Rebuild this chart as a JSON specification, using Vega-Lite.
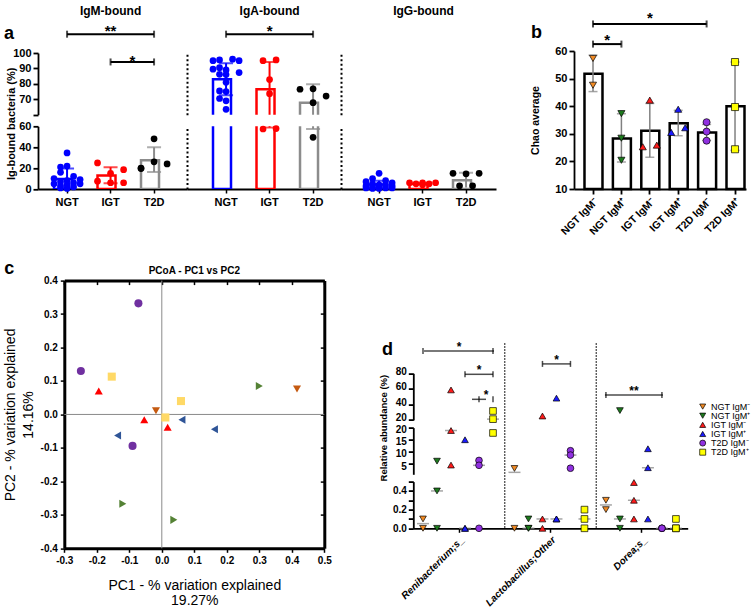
{
"$schema":"https://vega.github.io/schema/vega-lite/v6.json",
"background":"white",
"padding":{"left":3,"top":4,"right":0,"bottom":0},
"config":{"font":"Liberation Sans","view":{"stroke":null},"axis":{"domainColor":"black","tickColor":"black","labelColor":"black","titleColor":"black","grid":false,"labelFontWeight":"bold","domainWidth":1.8,"tickWidth":1.8,"labelFont":"Liberation Sans","titleFont":"Liberation Sans"}},
"datasets":{
"aPts":[
{"ig":"IgM","grp":"NGT","v":34.5,"lane":0},{"ig":"IgM","grp":"NGT","v":22,"lane":0},{"ig":"IgM","grp":"NGT","v":21,"lane":-1},{"ig":"IgM","grp":"NGT","v":16,"lane":-1},{"ig":"IgM","grp":"NGT","v":12,"lane":1},{"ig":"IgM","grp":"NGT","v":10,"lane":-2},{"ig":"IgM","grp":"NGT","v":9,"lane":2},{"ig":"IgM","grp":"NGT","v":8,"lane":0},{"ig":"IgM","grp":"NGT","v":7,"lane":-1},{"ig":"IgM","grp":"NGT","v":6,"lane":1},{"ig":"IgM","grp":"NGT","v":5,"lane":-2},{"ig":"IgM","grp":"NGT","v":5,"lane":2},{"ig":"IgM","grp":"NGT","v":4,"lane":0},{"ig":"IgM","grp":"NGT","v":3,"lane":-1},{"ig":"IgM","grp":"NGT","v":2,"lane":1},{"ig":"IgM","grp":"NGT","v":1,"lane":-1},{"ig":"IgM","grp":"NGT","v":0.5,"lane":0},
{"ig":"IgM","grp":"IGT","v":25,"lane":-2},{"ig":"IgM","grp":"IGT","v":18.5,"lane":2},{"ig":"IgM","grp":"IGT","v":15,"lane":0},{"ig":"IgM","grp":"IGT","v":7.5,"lane":-2},{"ig":"IgM","grp":"IGT","v":6,"lane":0},{"ig":"IgM","grp":"IGT","v":6,"lane":2},
{"ig":"IgM","grp":"T2D","v":48,"lane":0},{"ig":"IgM","grp":"T2D","v":26,"lane":0},{"ig":"IgM","grp":"T2D","v":24,"lane":2},{"ig":"IgM","grp":"T2D","v":20,"lane":-2},{"ig":"IgM","grp":"T2D","v":19.5,"lane":-2},
{"ig":"IgA","grp":"NGT","v":95,"lane":-2},{"ig":"IgA","grp":"NGT","v":95.5,"lane":-1},{"ig":"IgA","grp":"NGT","v":96,"lane":1},{"ig":"IgA","grp":"NGT","v":95,"lane":2},{"ig":"IgA","grp":"NGT","v":89.5,"lane":-2},{"ig":"IgA","grp":"NGT","v":90.5,"lane":-1},{"ig":"IgA","grp":"NGT","v":89,"lane":0},{"ig":"IgA","grp":"NGT","v":87.3,"lane":2},{"ig":"IgA","grp":"NGT","v":86.2,"lane":-1},{"ig":"IgA","grp":"NGT","v":86,"lane":0},{"ig":"IgA","grp":"NGT","v":81,"lane":0},{"ig":"IgA","grp":"NGT","v":75.4,"lane":-1},{"ig":"IgA","grp":"NGT","v":75,"lane":0},{"ig":"IgA","grp":"NGT","v":70.5,"lane":-1},{"ig":"IgA","grp":"NGT","v":69,"lane":0},{"ig":"IgA","grp":"NGT","v":63.5,"lane":0},
{"ig":"IgA","grp":"IGT","v":95,"lane":-1},{"ig":"IgA","grp":"IGT","v":95.5,"lane":1},{"ig":"IgA","grp":"IGT","v":82.8,"lane":0},{"ig":"IgA","grp":"IGT","v":73.6,"lane":0},{"ig":"IgA","grp":"IGT","v":57.4,"lane":-1},{"ig":"IgA","grp":"IGT","v":57.8,"lane":1},
{"ig":"IgA","grp":"T2D","v":76.5,"lane":-2},{"ig":"IgA","grp":"T2D","v":76.8,"lane":0},{"ig":"IgA","grp":"T2D","v":72.1,"lane":2},{"ig":"IgA","grp":"T2D","v":67.8,"lane":0},{"ig":"IgA","grp":"T2D","v":49.5,"lane":0},
{"ig":"IgG","grp":"NGT","v":15,"lane":0},{"ig":"IgG","grp":"NGT","v":10,"lane":-1},{"ig":"IgG","grp":"NGT","v":8,"lane":1},{"ig":"IgG","grp":"NGT","v":7,"lane":-2},{"ig":"IgG","grp":"NGT","v":6,"lane":2},{"ig":"IgG","grp":"NGT","v":5,"lane":-1},{"ig":"IgG","grp":"NGT","v":4,"lane":0},{"ig":"IgG","grp":"NGT","v":4,"lane":1},{"ig":"IgG","grp":"NGT","v":3,"lane":-2},{"ig":"IgG","grp":"NGT","v":3,"lane":2},{"ig":"IgG","grp":"NGT","v":2,"lane":-1},{"ig":"IgG","grp":"NGT","v":2,"lane":0},{"ig":"IgG","grp":"NGT","v":1,"lane":1},{"ig":"IgG","grp":"NGT","v":1,"lane":-2},{"ig":"IgG","grp":"NGT","v":1,"lane":2},{"ig":"IgG","grp":"NGT","v":0.5,"lane":-1},{"ig":"IgG","grp":"NGT","v":0.5,"lane":0},
{"ig":"IgG","grp":"IGT","v":6,"lane":-2},{"ig":"IgG","grp":"IGT","v":5,"lane":-1},{"ig":"IgG","grp":"IGT","v":6,"lane":0},{"ig":"IgG","grp":"IGT","v":5,"lane":1},{"ig":"IgG","grp":"IGT","v":6,"lane":2},{"ig":"IgG","grp":"IGT","v":4,"lane":0},
{"ig":"IgG","grp":"T2D","v":15,"lane":-2},{"ig":"IgG","grp":"T2D","v":14.5,"lane":0},{"ig":"IgG","grp":"T2D","v":15,"lane":2},{"ig":"IgG","grp":"T2D","v":3,"lane":-1},{"ig":"IgG","grp":"T2D","v":3,"lane":1}
],
"aBars":[
{"ig":"IgM","grp":"NGT","mean":9.6,"lo":0,"hi":19.5},{"ig":"IgM","grp":"IGT","mean":13,"lo":5.4,"hi":20.9},{"ig":"IgM","grp":"T2D","mean":27.5,"lo":16.3,"hi":40},
{"ig":"IgA","grp":"NGT","mean":83,"lo":72.6,"hi":93.4},{"ig":"IgA","grp":"IGT","mean":76.5,"lo":58.8,"hi":94.2},{"ig":"IgA","grp":"T2D","mean":67.8,"lo":57.4,"hi":79.7},
{"ig":"IgG","grp":"NGT","mean":4.3,"lo":1,"hi":7.8},{"ig":"IgG","grp":"IGT","mean":4.8,"lo":4,"hi":5.6},{"ig":"IgG","grp":"T2D","mean":8.3,"lo":1.5,"hi":15.5}
],
"bBars":[
{"g":"NGT IgM⁻","mean":51.8,"lo":45.3,"hi":58.5},{"g":"NGT IgM⁺","mean":28.3,"lo":19.8,"hi":37.3},{"g":"IGT IgM⁻","mean":31.1,"lo":21.5,"hi":41},{"g":"IGT IgM⁺","mean":33.8,"lo":29.3,"hi":38.5},{"g":"T2D IgM⁻","mean":30.5,"lo":27.6,"hi":33.4},{"g":"T2D IgM⁺","mean":40,"lo":24,"hi":56}
],
"bPts":[
{"g":"NGT IgM⁻","v":57.3,"lane":0},{"g":"NGT IgM⁻","v":47.6,"lane":0},
{"g":"NGT IgM⁺","v":37.3,"lane":0},{"g":"NGT IgM⁺","v":28.4,"lane":0},{"g":"NGT IgM⁺","v":20.4,"lane":0},
{"g":"IGT IgM⁻","v":42.2,"lane":0},{"g":"IGT IgM⁻","v":25.3,"lane":-1},{"g":"IGT IgM⁻","v":25.9,"lane":1},
{"g":"IGT IgM⁺","v":38.9,"lane":0},{"g":"IGT IgM⁺","v":30.5,"lane":-1},{"g":"IGT IgM⁺","v":32.2,"lane":1},
{"g":"T2D IgM⁻","v":34.2,"lane":0},{"g":"T2D IgM⁻","v":30.8,"lane":0},{"g":"T2D IgM⁻","v":27.5,"lane":0},
{"g":"T2D IgM⁺","v":56,"lane":0},{"g":"T2D IgM⁺","v":39.7,"lane":0},{"g":"T2D IgM⁺","v":24.4,"lane":0}
],
"cPts":[
{"g":"T2D IgM⁻","x":-0.072,"y":0.332},{"g":"T2D IgM⁻","x":-0.249,"y":0.13},{"g":"T2D IgM⁻","x":-0.09,"y":-0.094},
{"g":"T2D IgM⁺","x":-0.154,"y":0.113},{"g":"T2D IgM⁺","x":0.059,"y":0.04},{"g":"T2D IgM⁺","x":0.011,"y":-0.009},
{"g":"IGT IgM⁻","x":-0.194,"y":0.07},{"g":"IGT IgM⁻","x":-0.054,"y":-0.016},{"g":"IGT IgM⁻","x":0.018,"y":-0.038},
{"g":"NGT IgM⁻","x":-0.018,"y":0.011},{"g":"NGT IgM⁻","x":0.416,"y":0.076},
{"g":"NGT IgM⁺","x":0.3,"y":0.085},{"g":"NGT IgM⁺","x":-0.12,"y":-0.267},{"g":"NGT IgM⁺","x":0.037,"y":-0.315},
{"g":"IGT IgM⁺","x":-0.136,"y":-0.063},{"g":"IGT IgM⁺","x":0.062,"y":-0.016},{"g":"IGT IgM⁺","x":0.162,"y":-0.044}
],
"dPts":[
{"genus":"Renibacterium;s_","g":"NGT IgM⁻","v":0.1},{"genus":"Renibacterium;s_","g":"NGT IgM⁻","v":0},
{"genus":"Renibacterium;s_","g":"NGT IgM⁺","v":6.2},{"genus":"Renibacterium;s_","g":"NGT IgM⁺","v":0.4},{"genus":"Renibacterium;s_","g":"NGT IgM⁺","v":0},
{"genus":"Renibacterium;s_","g":"IGT IgM⁻","v":58.6},{"genus":"Renibacterium;s_","g":"IGT IgM⁻","v":18.8},{"genus":"Renibacterium;s_","g":"IGT IgM⁻","v":4.6},
{"genus":"Renibacterium;s_","g":"IGT IgM⁺","v":15},{"genus":"Renibacterium;s_","g":"IGT IgM⁺","v":0},{"genus":"Renibacterium;s_","g":"IGT IgM⁺","v":0},
{"genus":"Renibacterium;s_","g":"T2D IgM⁻","v":6.5},{"genus":"Renibacterium;s_","g":"T2D IgM⁻","v":4.5},{"genus":"Renibacterium;s_","g":"T2D IgM⁻","v":0},
{"genus":"Renibacterium;s_","g":"T2D IgM⁺","v":31.5},{"genus":"Renibacterium;s_","g":"T2D IgM⁺","v":21},{"genus":"Renibacterium;s_","g":"T2D IgM⁺","v":17.8},
{"genus":"Lactobacillus;Other","g":"NGT IgM⁻","v":3.2},{"genus":"Lactobacillus;Other","g":"NGT IgM⁻","v":0},
{"genus":"Lactobacillus;Other","g":"NGT IgM⁺","v":0.1},{"genus":"Lactobacillus;Other","g":"NGT IgM⁺","v":0},{"genus":"Lactobacillus;Other","g":"NGT IgM⁺","v":0},
{"genus":"Lactobacillus;Other","g":"IGT IgM⁻","v":25},{"genus":"Lactobacillus;Other","g":"IGT IgM⁻","v":0.1},{"genus":"Lactobacillus;Other","g":"IGT IgM⁻","v":0},
{"genus":"Lactobacillus;Other","g":"IGT IgM⁺","v":48},{"genus":"Lactobacillus;Other","g":"IGT IgM⁺","v":0.1},{"genus":"Lactobacillus;Other","g":"IGT IgM⁺","v":0.1},
{"genus":"Lactobacillus;Other","g":"T2D IgM⁻","v":10.5},{"genus":"Lactobacillus;Other","g":"T2D IgM⁻","v":8.7},{"genus":"Lactobacillus;Other","g":"T2D IgM⁻","v":3.3},
{"genus":"Lactobacillus;Other","g":"T2D IgM⁺","v":0.2},{"genus":"Lactobacillus;Other","g":"T2D IgM⁺","v":0.1},{"genus":"Lactobacillus;Other","g":"T2D IgM⁺","v":0},
{"genus":"Dorea;s_","g":"NGT IgM⁻","v":0.3},{"genus":"Dorea;s_","g":"NGT IgM⁻","v":0.2},
{"genus":"Dorea;s_","g":"NGT IgM⁺","v":32},{"genus":"Dorea;s_","g":"NGT IgM⁺","v":0.1},{"genus":"Dorea;s_","g":"NGT IgM⁺","v":0},
{"genus":"Dorea;s_","g":"IGT IgM⁻","v":0.49},{"genus":"Dorea;s_","g":"IGT IgM⁻","v":0.3},{"genus":"Dorea;s_","g":"IGT IgM⁻","v":0.1},
{"genus":"Dorea;s_","g":"IGT IgM⁺","v":11.3},{"genus":"Dorea;s_","g":"IGT IgM⁺","v":3.5},{"genus":"Dorea;s_","g":"IGT IgM⁺","v":0.1},
{"genus":"Dorea;s_","g":"T2D IgM⁻","v":0},{"genus":"Dorea;s_","g":"T2D IgM⁻","v":0},{"genus":"Dorea;s_","g":"T2D IgM⁻","v":0},
{"genus":"Dorea;s_","g":"T2D IgM⁺","v":0.1},{"genus":"Dorea;s_","g":"T2D IgM⁺","v":0},{"genus":"Dorea;s_","g":"T2D IgM⁺","v":0}
],
"dCaps":[
{"genus":"Renibacterium;s_","g":"NGT IgM⁻","y":108.8},{"genus":"Renibacterium;s_","g":"T2D IgM⁺","y":108.8},
{"genus":"Renibacterium;s_","g":"IGT IgM⁺","y":78.7},{"genus":"Renibacterium;s_","g":"T2D IgM⁺","y":78.7},
{"genus":"Renibacterium;s_","g":"T2D IgM⁻","y":46.5},{"genus":"Renibacterium;s_","g":"T2D IgM⁺","y":46.5},
{"genus":"Lactobacillus;Other","g":"IGT IgM⁻","y":92.1},{"genus":"Lactobacillus;Other","g":"T2D IgM⁻","y":92.1},
{"genus":"Dorea;s_","g":"NGT IgM⁻","y":52.2},{"genus":"Dorea;s_","g":"T2D IgM⁻","y":52.2}
],
"leg":[{"g":"NGT IgM⁻"},{"g":"NGT IgM⁺"},{"g":"IGT IgM⁻"},{"g":"IGT IgM⁺"},{"g":"T2D IgM⁻"},{"g":"T2D IgM⁺"}]
},
"bounds":"flush",
"align":"each",
"columns":4,
"spacing":{"row":11.3,"column":0},
"resolve":{"scale":{"color":"independent","shape":"independent","fill":"independent","stroke":"independent","xOffset":"independent"}},
"concat":[
  {"width":149,"height":63.7,
   "encoding":{"x":{"field":"grp","type":"nominal","title":null,"axis":null,"scale":{"domain":["NGT","IGT","T2D"],"paddingInner":0.4,"paddingOuter":0.4125,"align":0.446}},
     "y":{"field":"y","type":"quantitative","title":null,"scale":{"domain":[60,100],"range":[63.7,2],"nice":false,"zero":false},"axis":{"values":[60,70,80,90,100],"labelExpr":"datum.value==60?'':datum.label","tickSize":5,"labelFontSize":11,"labelPadding":2,"title":null}}},
   "layer":[
    {"data":{"values":[{"grp":"NGT","grp2":"T2D","y":112.2},{"grp":"IGT","grp2":"T2D","y":94.2}]},"mark":{"type":"rule","strokeWidth":2,"color":"black"},"encoding":{"x2":{"field":"grp2"}}},
    {"data":{"values":[{"grp":"NGT","grp2":"T2D","y":112.2},{"grp":"IGT","grp2":"T2D","y":94.2}]},"mark":{"type":"tick","orient":"vertical","size":7,"thickness":2,"color":"black"}},
    {"data":{"values":[{"grp":"NGT","grp2":"T2D","y":112.2},{"grp":"IGT","grp2":"T2D","y":94.2}]},"mark":{"type":"tick","orient":"vertical","size":7,"thickness":2,"color":"black"},"encoding":{"x":{"field":"grp2","type":"nominal","title":null,"axis":null}}},
    {"data":{"values":[{"grp":"IGT","y":110.8,"t":"**"}]},"mark":{"type":"text","fontSize":15,"fontWeight":"bold","baseline":"alphabetic"},"encoding":{"text":{"field":"t"}}},
    {"data":{"values":[{"grp":"IGT","y":91.8,"t":"*"}]},"mark":{"type":"text","fontSize":15,"fontWeight":"bold","baseline":"alphabetic","dx":21.75},"encoding":{"text":{"field":"t"}}},
    {"data":{"values":[{"grp":"IGT","y":124.9,"t":"IgM-bound"}]},"mark":{"type":"text","fontSize":12,"fontWeight":"bold","baseline":"alphabetic"},"encoding":{"text":{"field":"t"}}},
    {"data":{"values":[{"grp":"NGT","y":109.1,"t":"a"}]},"mark":{"type":"text","fontSize":18,"fontWeight":"bold","baseline":"alphabetic","align":"left","dx":-63},"encoding":{"text":{"field":"t"}}}
   ]},
  {"width":154,"height":63.7,
   "encoding":{"x":{"field":"grp","type":"nominal","title":null,"axis":null,"scale":{"domain":["NGT","IGT","T2D"],"paddingInner":0.4,"paddingOuter":0.47,"align":0.636}},
     "y":{"field":"y","type":"quantitative","title":null,"scale":{"domain":[60,100],"range":[63.7,2],"nice":false,"zero":false},"axis":{"domainDash":[2,2.5],"domainWidth":2,"ticks":false,"labels":false,"title":null}}},
   "layer":[
    {"data":{"name":"aBars"},"transform":[{"filter":"datum.ig=='IgA'"}],"mark":{"type":"bar","fill":"white","strokeWidth":2.5,"clip":true},"encoding":{"y":{"field":"mean","type":"quantitative","title":null},"y2":{"datum":0},"stroke":{"field":"grp","type":"nominal","legend":null,"scale":{"domain":["NGT","IGT","T2D"],"range":["#0000ff","#ff0000","#8c8c8c"]}}}},
    {"data":{"name":"aBars"},"transform":[{"filter":"datum.ig=='IgA'"}],"mark":{"type":"rule","strokeWidth":2,"clip":true},"encoding":{"y":{"field":"lo","type":"quantitative","title":null},"y2":{"field":"hi"},"stroke":{"field":"grp","type":"nominal","legend":null}}},
    {"data":{"name":"aBars"},"transform":[{"filter":"datum.ig=='IgA'"}],"mark":{"type":"tick","orient":"horizontal","thickness":2,"size":14,"clip":true},"encoding":{"y":{"field":"lo","type":"quantitative","title":null},"fill":{"field":"grp","type":"nominal","legend":null,"scale":{"domain":["NGT","IGT","T2D"],"range":["#0000ff","#ff0000","#8c8c8c"]}}}},
    {"data":{"name":"aBars"},"transform":[{"filter":"datum.ig=='IgA'"}],"mark":{"type":"tick","orient":"horizontal","thickness":2,"size":14,"clip":true},"encoding":{"y":{"field":"hi","type":"quantitative","title":null},"fill":{"field":"grp","type":"nominal","legend":null}}},
    {"data":{"name":"aPts"},"transform":[{"filter":"datum.ig=='IgA' && datum.v>=60"}],"mark":{"type":"circle","size":45,"opacity":1},"encoding":{"y":{"field":"v","type":"quantitative","title":null},"xOffset":{"field":"lane","type":"ordinal","scale":{"type":"point","padding":0,"domain":[-2,-1,0,1,2],"range":[0,26.1]}},"color":{"field":"grp","type":"nominal","legend":null,"scale":{"domain":["NGT","IGT","T2D"],"range":["#0000ff","#ff0000","#000000"]}}}},
    {"data":{"values":[{"grp":"NGT","grp2":"T2D","y":112.2}]},"mark":{"type":"rule","strokeWidth":2,"color":"black"},"encoding":{"x2":{"field":"grp2"}}},
    {"data":{"values":[{"grp":"NGT","grp2":"T2D","y":112.2}]},"mark":{"type":"tick","orient":"vertical","size":7,"thickness":2,"color":"black"}},
    {"data":{"values":[{"grp":"NGT","grp2":"T2D","y":112.2}]},"mark":{"type":"tick","orient":"vertical","size":7,"thickness":2,"color":"black"},"encoding":{"x":{"field":"grp2","type":"nominal","title":null,"axis":null}}},
    {"data":{"values":[{"grp":"IGT","y":110.8,"t":"*"}]},"mark":{"type":"text","fontSize":15,"fontWeight":"bold","baseline":"alphabetic"},"encoding":{"text":{"field":"t"}}},
    {"data":{"values":[{"grp":"IGT","y":124.9,"t":"IgA-bound"}]},"mark":{"type":"text","fontSize":12,"fontWeight":"bold","baseline":"alphabetic"},"encoding":{"text":{"field":"t"}}}
   ]},
  {"width":155,"height":63.7,
   "encoding":{"x":{"field":"grp","type":"nominal","title":null,"axis":null,"scale":{"domain":["NGT","IGT","T2D"],"paddingInner":0.4,"paddingOuter":0.482,"align":0.597}},
     "y":{"field":"y","type":"quantitative","title":null,"scale":{"domain":[60,100],"range":[63.7,2],"nice":false,"zero":false},"axis":{"domainDash":[2,2.5],"domainWidth":2,"ticks":false,"labels":false,"title":null}}},
   "layer":[
    {"data":{"values":[{"grp":"IGT","y":124.9,"t":"IgG-bound"}]},"mark":{"type":"text","fontSize":12,"fontWeight":"bold","baseline":"alphabetic"},"encoding":{"text":{"field":"t"}}}
   ]},
  {"width":250,"height":63.7,
   "encoding":{"x":{"field":"g","type":"nominal","title":null,"scale":{"domain":["NGT IgM⁻","NGT IgM⁺","IGT IgM⁻","IGT IgM⁺","T2D IgM⁻","T2D IgM⁺"],"range":[78,250],"paddingInner":0.4,"paddingOuter":0.228,"align":0.81},"axis":{"title":null,"labelAngle":-45,"labelFontSize":10.5,"tickSize":5,"labelPadding":2,"offset":74.3}},
     "y":{"field":"mean","type":"quantitative","title":null,"scale":{"domain":[10,60],"range":[138,0],"nice":false,"zero":false},"axis":{"values":[10,20,30,40,50,60],"labelFontSize":11,"tickSize":5,"labelPadding":2,"offset":-78,"title":"Chao average","titleFontSize":10.5,"titleFontWeight":"bold","titleX":-39,"titleY":69,"titleAngle":-90,"titleAlign":"center","titleBaseline":"middle"}}},
   "layer":[
    {"data":{"name":"bBars"},"mark":{"type":"bar","fill":"white","stroke":"black","strokeWidth":2.5},"encoding":{"y2":{"datum":10}}},
    {"data":{"name":"bBars"},"mark":{"type":"rule","color":"#808080","strokeWidth":1.5},"encoding":{"y":{"field":"lo","type":"quantitative","title":null},"y2":{"field":"hi"}}},
    {"data":{"name":"bBars"},"mark":{"type":"tick","orient":"horizontal","color":"#808080","size":9,"thickness":1.5},"encoding":{"y":{"field":"lo","type":"quantitative","title":null}}},
    {"data":{"name":"bBars"},"mark":{"type":"tick","orient":"horizontal","color":"#808080","size":9,"thickness":1.5},"encoding":{"y":{"field":"hi","type":"quantitative","title":null}}},
    {"data":{"name":"bPts"},"mark":{"type":"point","filled":true,"size":50,"stroke":"black","strokeWidth":0.7,"opacity":1},"encoding":{"y":{"field":"v","type":"quantitative","title":null},"xOffset":{"field":"lane","type":"ordinal","scale":{"type":"point","padding":0,"domain":[-1,0,1],"range":[1.5,15.5]}},"shape":{"field":"g","type":"nominal","legend":null,"scale":{"domain":["NGT IgM⁻","NGT IgM⁺","IGT IgM⁻","IGT IgM⁺","T2D IgM⁻","T2D IgM⁺"],"range":["triangle-down","triangle-down","triangle-up","triangle-up","circle","square"]}},"color":{"field":"g","type":"nominal","legend":null,"scale":{"domain":["NGT IgM⁻","NGT IgM⁺","IGT IgM⁻","IGT IgM⁺","T2D IgM⁻","T2D IgM⁺"],"range":["#f08a24","#1d7a1d","#ff1a1a","#1a1aff","#9030e0","#ffff00"]}}}},
    {"data":{"values":[{"g":"NGT IgM⁻","g2":"T2D IgM⁻","y":69.8},{"g":"NGT IgM⁻","g2":"NGT IgM⁺","y":62.5}]},"mark":{"type":"rule","strokeWidth":2,"color":"black"},"encoding":{"y":{"field":"y","type":"quantitative","title":null},"x2":{"field":"g2"}}},
    {"data":{"values":[{"g":"NGT IgM⁻","g2":"T2D IgM⁻","y":69.8},{"g":"NGT IgM⁻","g2":"NGT IgM⁺","y":62.5}]},"mark":{"type":"tick","orient":"vertical","size":7,"thickness":2,"color":"black"},"encoding":{"y":{"field":"y","type":"quantitative","title":null}}},
    {"data":{"values":[{"g":"NGT IgM⁻","g2":"T2D IgM⁻","y":69.8},{"g":"NGT IgM⁻","g2":"NGT IgM⁺","y":62.5}]},"mark":{"type":"tick","orient":"vertical","size":7,"thickness":2,"color":"black"},"encoding":{"x":{"field":"g2","type":"nominal","title":null},"y":{"field":"y","type":"quantitative","title":null}}},
    {"data":{"values":[{"g":"IGT IgM⁻","y":70,"t":"*"}]},"mark":{"type":"text","fontSize":15,"fontWeight":"bold","baseline":"alphabetic"},"encoding":{"y":{"field":"y","type":"quantitative","title":null},"text":{"field":"t"}}},
    {"data":{"values":[{"g":"NGT IgM⁻","y":62,"t":"*"}]},"mark":{"type":"text","fontSize":15,"fontWeight":"bold","baseline":"alphabetic","dx":14.2},"encoding":{"y":{"field":"y","type":"quantitative","title":null},"text":{"field":"t"}}},
    {"data":{"values":[{"g":"NGT IgM⁻","y":64.7,"t":"b"}]},"mark":{"type":"text","fontSize":18,"fontWeight":"bold","baseline":"alphabetic","align":"left","dx":-62},"encoding":{"y":{"field":"y","type":"quantitative","title":null},"text":{"field":"t"}}}
   ]},
  {"width":149,"height":62.7,
   "encoding":{"x":{"field":"grp","type":"nominal","title":null,"axis":{"title":null,"labelAngle":0,"labelFontSize":11,"tickSize":4,"tickWidth":1.5,"labelPadding":3},"scale":{"domain":["NGT","IGT","T2D"],"paddingInner":0.4,"paddingOuter":0.4125,"align":0.446}},
     "y":{"field":"mean","type":"quantitative","title":null,"scale":{"domain":[0,60],"nice":false,"zero":false},"axis":{"values":[0,20,40,60],"tickSize":5,"labelFontSize":11,"labelPadding":2,"title":"Ig-bound bacteria (%)","titleFontSize":11,"titleFontWeight":"bold","titleX":-24,"titleY":-3,"titleAngle":-90,"titleAlign":"center","titleBaseline":"alphabetic"}}},
   "layer":[
    {"data":{"name":"aBars"},"transform":[{"filter":"datum.ig=='IgM'"}],"mark":{"type":"bar","fill":"white","strokeWidth":2.5,"clip":true},"encoding":{"y2":{"datum":0},"stroke":{"field":"grp","type":"nominal","legend":null,"scale":{"domain":["NGT","IGT","T2D"],"range":["#0000ff","#ff0000","#8c8c8c"]}}}},
    {"data":{"name":"aBars"},"transform":[{"filter":"datum.ig=='IgM'"}],"mark":{"type":"rule","strokeWidth":2,"clip":true},"encoding":{"y":{"field":"lo","type":"quantitative","title":null},"y2":{"field":"hi"},"stroke":{"field":"grp","type":"nominal","legend":null}}},
    {"data":{"name":"aBars"},"transform":[{"filter":"datum.ig=='IgM'"}],"mark":{"type":"tick","orient":"horizontal","thickness":2,"size":14,"clip":true},"encoding":{"y":{"field":"lo","type":"quantitative","title":null},"fill":{"field":"grp","type":"nominal","legend":null,"scale":{"domain":["NGT","IGT","T2D"],"range":["#0000ff","#ff0000","#8c8c8c"]}}}},
    {"data":{"name":"aBars"},"transform":[{"filter":"datum.ig=='IgM'"}],"mark":{"type":"tick","orient":"horizontal","thickness":2,"size":14,"clip":true},"encoding":{"y":{"field":"hi","type":"quantitative","title":null},"fill":{"field":"grp","type":"nominal","legend":null}}},
    {"data":{"name":"aPts"},"transform":[{"filter":"datum.ig=='IgM' && datum.v<60"}],"mark":{"type":"circle","size":45,"opacity":1},"encoding":{"y":{"field":"v","type":"quantitative","title":null},"xOffset":{"field":"lane","type":"ordinal","scale":{"type":"point","padding":0,"domain":[-2,-1,0,1,2],"range":[0,26.1]}},"color":{"field":"grp","type":"nominal","legend":null,"scale":{"domain":["NGT","IGT","T2D"],"range":["#0000ff","#ff0000","#000000"]}}}}
   ]},
  {"width":154,"height":62.7,
   "encoding":{"x":{"field":"grp","type":"nominal","title":null,"axis":{"title":null,"labelAngle":0,"labelFontSize":11,"tickSize":4,"tickWidth":1.5,"labelPadding":3},"scale":{"domain":["NGT","IGT","T2D"],"paddingInner":0.4,"paddingOuter":0.47,"align":0.636}},
     "y":{"field":"mean","type":"quantitative","title":null,"scale":{"domain":[0,60],"nice":false,"zero":false},"axis":{"domainDash":[2,2.5],"domainWidth":2,"ticks":false,"labels":false,"title":null}}},
   "layer":[
    {"data":{"name":"aBars"},"transform":[{"filter":"datum.ig=='IgA'"}],"mark":{"type":"bar","fill":"white","strokeWidth":2.5,"clip":true},"encoding":{"y2":{"datum":0},"stroke":{"field":"grp","type":"nominal","legend":null,"scale":{"domain":["NGT","IGT","T2D"],"range":["#0000ff","#ff0000","#8c8c8c"]}}}},
    {"data":{"name":"aBars"},"transform":[{"filter":"datum.ig=='IgA'"}],"mark":{"type":"rule","strokeWidth":2,"clip":true},"encoding":{"y":{"field":"lo","type":"quantitative","title":null},"y2":{"field":"hi"},"stroke":{"field":"grp","type":"nominal","legend":null}}},
    {"data":{"name":"aBars"},"transform":[{"filter":"datum.ig=='IgA'"}],"mark":{"type":"tick","orient":"horizontal","thickness":2,"size":14,"clip":true},"encoding":{"y":{"field":"lo","type":"quantitative","title":null},"fill":{"field":"grp","type":"nominal","legend":null,"scale":{"domain":["NGT","IGT","T2D"],"range":["#0000ff","#ff0000","#8c8c8c"]}}}},
    {"data":{"name":"aBars"},"transform":[{"filter":"datum.ig=='IgA'"}],"mark":{"type":"tick","orient":"horizontal","thickness":2,"size":14,"clip":true},"encoding":{"y":{"field":"hi","type":"quantitative","title":null},"fill":{"field":"grp","type":"nominal","legend":null}}},
    {"data":{"name":"aPts"},"transform":[{"filter":"datum.ig=='IgA' && datum.v<60"}],"mark":{"type":"circle","size":45,"opacity":1},"encoding":{"y":{"field":"v","type":"quantitative","title":null},"xOffset":{"field":"lane","type":"ordinal","scale":{"type":"point","padding":0,"domain":[-2,-1,0,1,2],"range":[0,26.1]}},"color":{"field":"grp","type":"nominal","legend":null,"scale":{"domain":["NGT","IGT","T2D"],"range":["#0000ff","#ff0000","#000000"]}}}}
   ]},
  {"width":155,"height":62.7,
   "encoding":{"x":{"field":"grp","type":"nominal","title":null,"axis":{"title":null,"labelAngle":0,"labelFontSize":11,"tickSize":4,"tickWidth":1.5,"labelPadding":3},"scale":{"domain":["NGT","IGT","T2D"],"paddingInner":0.4,"paddingOuter":0.482,"align":0.597}},
     "y":{"field":"mean","type":"quantitative","title":null,"scale":{"domain":[0,60],"nice":false,"zero":false},"axis":{"domainDash":[2,2.5],"domainWidth":2,"ticks":false,"labels":false,"title":null}}},
   "layer":[
    {"data":{"name":"aBars"},"transform":[{"filter":"datum.ig=='IgG'"}],"mark":{"type":"bar","fill":"white","strokeWidth":2.5,"clip":true},"encoding":{"y2":{"datum":0},"stroke":{"field":"grp","type":"nominal","legend":null,"scale":{"domain":["NGT","IGT","T2D"],"range":["#0000ff","#ff0000","#8c8c8c"]}}}},
    {"data":{"name":"aBars"},"transform":[{"filter":"datum.ig=='IgG'"}],"mark":{"type":"rule","strokeWidth":2,"clip":true},"encoding":{"y":{"field":"lo","type":"quantitative","title":null},"y2":{"field":"hi"},"stroke":{"field":"grp","type":"nominal","legend":null}}},
    {"data":{"name":"aBars"},"transform":[{"filter":"datum.ig=='IgG'"}],"mark":{"type":"tick","orient":"horizontal","thickness":2,"size":14,"clip":true},"encoding":{"y":{"field":"hi","type":"quantitative","title":null},"fill":{"field":"grp","type":"nominal","legend":null,"scale":{"domain":["NGT","IGT","T2D"],"range":["#0000ff","#ff0000","#8c8c8c"]}}}},
    {"data":{"name":"aPts"},"transform":[{"filter":"datum.ig=='IgG' && datum.v<60"}],"mark":{"type":"circle","size":45,"opacity":1},"encoding":{"y":{"field":"v","type":"quantitative","title":null},"xOffset":{"field":"lane","type":"ordinal","scale":{"type":"point","padding":0,"domain":[-2,-1,0,1,2],"range":[0,26.1]}},"color":{"field":"grp","type":"nominal","legend":null,"scale":{"domain":["NGT","IGT","T2D"],"range":["#0000ff","#ff0000","#000000"]}}}}
   ]},
  {"width":10,"height":10,"data":{"values":[{"k":1}]},"mark":{"type":"point","opacity":0}},
  {"width":149,"height":347.7,
   "resolve":{"axis":{"x":"independent","y":"independent"}},
   "layer":[
    {"data":{"values":[{"z":0}]},"mark":{"type":"rule","color":"#8a8a8a","strokeWidth":1},"encoding":{"x":{"field":"z","type":"quantitative","scale":{"domain":[-0.3,0.5],"range":[26.3,286.3],"nice":false,"zero":false},"axis":{"orient":"bottom","values":[-0.3,-0.2,-0.1,0,0.1,0.2,0.3,0.4,0.5],"format":".1f","labelExpr":"replace(datum.label,'−','-')","labelFontSize":10,"labelFlush":false,"labelOverlap":false,"domainWidth":3,"tickWidth":1.5,"tickSize":4,"labelPadding":3,"title":["PC1 - % variation explained","19.27%"],"titleFontSize":14,"titleFontWeight":"normal","titleLineHeight":15,"titleX":156.3,"titleY":41.3,"titleAlign":"center","titleBaseline":"alphabetic","titleAngle":0}},"y":{"datum":-0.4,"type":"quantitative","scale":{"domain":[-0.4,0.4],"range":[347.7,80],"nice":false,"zero":false},"axis":null},"y2":{"datum":0.4}}},
    {"data":{"values":[{"z":0}]},"mark":{"type":"rule","color":"#8a8a8a","strokeWidth":1},"encoding":{"y":{"field":"z","type":"quantitative","axis":{"orient":"left","offset":-26.3,"values":[-0.4,-0.3,-0.2,-0.1,0,0.1,0.2,0.3,0.4],"format":".1f","labelExpr":"replace(datum.label,'−','-')","labelFontSize":10,"labelFlush":false,"labelOverlap":false,"domainWidth":3,"tickWidth":1.5,"tickSize":4,"labelPadding":3,"title":["PC2 - % variation explained","14.16%"],"titleFontSize":14,"titleFontWeight":"normal","titleLineHeight":18.4,"titleX":-50,"titleY":213.85,"titleAngle":-90,"titleAlign":"center","titleBaseline":"alphabetic"}},"x":{"datum":-0.3,"type":"quantitative","axis":null},"x2":{"datum":0.5}}},
    {"data":{"values":[{"z":0}]},"mark":{"type":"point","opacity":0},"encoding":{"x":{"field":"z","type":"quantitative","axis":{"orient":"top","offset":-80,"values":[-0.3,-0.2,-0.1,0,0.1,0.2,0.3,0.4,0.5],"labels":false,"tickSize":-4,"tickWidth":1.5,"domainWidth":3,"title":null}},"y":{"field":"z","type":"quantitative","axis":{"orient":"right","offset":137.3,"values":[-0.4,-0.3,-0.2,-0.1,0,0.1,0.2,0.3,0.4],"labels":false,"tickSize":-4,"tickWidth":1.5,"domainWidth":3,"title":null}}}},
    {"data":{"name":"cPts"},"mark":{"type":"point","filled":true,"size":65,"opacity":1},"encoding":{"x":{"field":"x","type":"quantitative","axis":null},"y":{"field":"y","type":"quantitative","axis":null},"shape":{"field":"g","type":"nominal","legend":null,"scale":{"domain":["NGT IgM⁻","NGT IgM⁺","IGT IgM⁻","IGT IgM⁺","T2D IgM⁻","T2D IgM⁺"],"range":["triangle-down","triangle-right","triangle-up","triangle-left","circle","square"]}},"color":{"field":"g","type":"nominal","legend":null,"scale":{"domain":["NGT IgM⁻","NGT IgM⁺","IGT IgM⁻","IGT IgM⁺","T2D IgM⁻","T2D IgM⁺"],"range":["#c55a11","#548235","#ff0000","#2f5597","#7030a0","#ffd966"]}}}},
    {"data":{"values":[{"x":0.1,"y":0.421,"t":"PCoA - PC1 vs PC2"}]},"mark":{"type":"text","fontSize":10,"fontWeight":"bold","baseline":"alphabetic"},"encoding":{"x":{"field":"x","type":"quantitative","axis":null},"y":{"field":"y","type":"quantitative","axis":null},"text":{"field":"t"}}},
    {"data":{"values":[{"x":-0.4846,"y":0.4188,"t":"c"}]},"mark":{"type":"text","fontSize":18,"fontWeight":"bold","baseline":"alphabetic","align":"left"},"encoding":{"x":{"field":"x","type":"quantitative","axis":null},"y":{"field":"y","type":"quantitative","axis":null},"text":{"field":"t"}}}
   ]},
  {"width":10,"height":10,"data":{"values":[{"k":1}]},"mark":{"type":"point","opacity":0}},
  {"width":155,"height":327.7,
   "resolve":{"scale":{"y":"independent"},"axis":{"y":"independent"}},
   "encoding":{"x":{"field":"genus","type":"nominal","title":null,"scale":{"domain":["Renibacterium;s_","Lactobacillus;Other","Dorea;s_"],"range":[72.3,346.7],"paddingInner":0,"paddingOuter":0},"axis":{"title":null,"labelAngle":-45,"labelFontSize":10,"labelFontStyle":"italic","tickSize":4,"tickWidth":1.5,"labelPadding":2}}},
   "layer":[
    {"data":{"values":[{"genus":"Lactobacillus;Other"},{"genus":"Dorea;s_"}]},"mark":{"type":"rule","strokeDash":[1.5,1.5],"strokeWidth":1.2,"color":"black"},"encoding":{"x":{"field":"genus","type":"nominal","bandPosition":0,"title":null},"y":{"datum":118.6,"type":"quantitative","scale":{"domain":[20,80],"range":[219.3,172.7],"nice":false,"zero":false},"axis":null},"y2":{"datum":-119.6}}},
    {"data":{"name":"dPts"},"transform":[{"aggregate":[{"op":"median","field":"v","as":"med"}],"groupby":["genus","g"]},{"filter":"datum.med>20"}],"mark":{"type":"tick","orient":"horizontal","size":12,"thickness":1.5,"color":"#808080"},"encoding":{"xOffset":{"field":"g","type":"nominal","scale":{"type":"point","padding":0,"domain":["NGT IgM⁻","NGT IgM⁺","IGT IgM⁻","IGT IgM⁺","T2D IgM⁻","T2D IgM⁺"],"range":[9.7,79.7]}},"y":{"field":"med","type":"quantitative","scale":{"domain":[20,80],"range":[219.3,172.7],"nice":false,"zero":false},"axis":null}}},
    {"data":{"name":"dPts"},"transform":[{"aggregate":[{"op":"median","field":"v","as":"med"}],"groupby":["genus","g"]},{"filter":"datum.med>0.5 && datum.med<=20"}],"mark":{"type":"tick","orient":"horizontal","size":12,"thickness":1.5,"color":"#808080"},"encoding":{"xOffset":{"field":"g","type":"nominal"},"y":{"field":"med","type":"quantitative","scale":{"domain":[0.8,20],"range":[273.7,227],"nice":false,"zero":false},"axis":null}}},
    {"data":{"name":"dPts"},"transform":[{"aggregate":[{"op":"median","field":"v","as":"med"}],"groupby":["genus","g"]},{"filter":"datum.med<=0.5"}],"mark":{"type":"tick","orient":"horizontal","size":12,"thickness":1.5,"color":"#808080"},"encoding":{"xOffset":{"field":"g","type":"nominal"},"y":{"field":"med","type":"quantitative","scale":{"domain":[0,0.5],"range":[327.7,281],"nice":false,"zero":false},"axis":null}}},
    {"data":{"name":"dPts"},"transform":[{"filter":"datum.v>20"}],"mark":{"type":"point","filled":true,"size":45,"stroke":"black","strokeWidth":0.7,"opacity":1},"encoding":{"y":{"field":"v","type":"quantitative","title":null,"scale":{"domain":[20,80],"range":[219.3,172.7],"nice":false,"zero":false},"axis":{"orient":"left","offset":-72.3,"values":[20,40,60,80],"labelFontSize":10,"labelOffset":-2,"tickSize":5,"labelPadding":2,"title":null}},"xOffset":{"field":"g","type":"nominal"},"shape":{"field":"g","type":"nominal","legend":null,"scale":{"domain":["NGT IgM⁻","NGT IgM⁺","IGT IgM⁻","IGT IgM⁺","T2D IgM⁻","T2D IgM⁺"],"range":["triangle-down","triangle-down","triangle-up","triangle-up","circle","square"]}},"color":{"field":"g","type":"nominal","legend":null,"scale":{"domain":["NGT IgM⁻","NGT IgM⁺","IGT IgM⁻","IGT IgM⁺","T2D IgM⁻","T2D IgM⁺"],"range":["#f08a24","#1d7a1d","#ff1a1a","#1a1aff","#9030e0","#ffff00"]}}}},
    {"data":{"name":"dPts"},"transform":[{"filter":"datum.v>0.5 && datum.v<=20"}],"mark":{"type":"point","filled":true,"size":45,"stroke":"black","strokeWidth":0.7,"opacity":1},"encoding":{"y":{"field":"v","type":"quantitative","title":null,"scale":{"domain":[0.8,20],"range":[273.7,227],"nice":false,"zero":false},"axis":{"orient":"left","offset":-72.3,"values":[5,10,15,20],"labelFontSize":10,"labelOffset":2,"tickSize":5,"labelPadding":2,"title":"Relative abundance (%)","titleFontSize":9.5,"titleFontWeight":"bold","titleX":-30.3,"titleY":227,"titleAngle":-90,"titleAlign":"center","titleBaseline":"middle"}},"xOffset":{"field":"g","type":"nominal"},"shape":{"field":"g","type":"nominal","legend":null},"color":{"field":"g","type":"nominal","legend":null}}},
    {"data":{"name":"dPts"},"transform":[{"filter":"datum.v<=0.5"}],"mark":{"type":"point","filled":true,"size":45,"stroke":"black","strokeWidth":0.7,"opacity":1},"encoding":{"y":{"field":"v","type":"quantitative","title":null,"scale":{"domain":[0,0.5],"range":[327.7,281],"nice":false,"zero":false},"axis":{"orient":"left","offset":-72.3,"values":[0,0.1,0.2,0.3,0.4,0.5],"format":".1f","labelFontSize":10,"tickSize":5,"labelPadding":2,"title":null}},"xOffset":{"field":"g","type":"nominal"},"shape":{"field":"g","type":"nominal","legend":null},"color":{"field":"g","type":"nominal","legend":null}}},
    {"data":{"values":[{"genus":"Renibacterium;s_","y":108.8}]},"mark":{"type":"tick","orient":"horizontal","size":70,"thickness":1.5,"color":"black"},"encoding":{"y":{"field":"y","type":"quantitative","scale":{"domain":[20,80],"range":[219.3,172.7],"nice":false,"zero":false},"axis":null}}},
    {"data":{"values":[{"genus":"Renibacterium;s_","g":"T2D IgM⁻","y":78.7},{"genus":"Lactobacillus;Other","g":"IGT IgM⁺","y":92.1}]},"mark":{"type":"tick","orient":"horizontal","size":28,"thickness":1.5,"color":"black"},"encoding":{"xOffset":{"field":"g","type":"nominal"},"y":{"field":"y","type":"quantitative","scale":{"domain":[20,80],"range":[219.3,172.7],"nice":false,"zero":false},"axis":null}}},
    {"data":{"values":[{"genus":"Renibacterium;s_","g":"T2D IgM⁻","y":46.5}]},"mark":{"type":"tick","orient":"horizontal","size":14,"thickness":1.5,"color":"black","xOffset":7},"encoding":{"xOffset":{"field":"g","type":"nominal"},"y":{"field":"y","type":"quantitative","scale":{"domain":[20,80],"range":[219.3,172.7],"nice":false,"zero":false},"axis":null}}},
    {"data":{"values":[{"genus":"Dorea;s_","g":"IGT IgM⁻","y":52.2}]},"mark":{"type":"tick","orient":"horizontal","size":58,"thickness":1.5,"color":"black","xOffset":2},"encoding":{"xOffset":{"field":"g","type":"nominal"},"y":{"field":"y","type":"quantitative","scale":{"domain":[20,80],"range":[219.3,172.7],"nice":false,"zero":false},"axis":null}}},
    {"data":{"name":"dCaps"},"mark":{"type":"tick","orient":"vertical","size":6,"thickness":1.5,"color":"black"},"encoding":{"xOffset":{"field":"g","type":"nominal"},"y":{"field":"y","type":"quantitative","scale":{"domain":[20,80],"range":[219.3,172.7],"nice":false,"zero":false},"axis":null}}},
    {"data":{"values":[{"genus":"Renibacterium;s_","g":"T2D IgM⁻","y":78.7,"t":"*"},{"genus":"Lactobacillus;Other","g":"IGT IgM⁺","y":92.1,"t":"*"},{"genus":"Dorea;s_","g":"IGT IgM⁻","y":52.2,"t":"**"}]},"mark":{"type":"text","fontSize":12,"fontWeight":"bold","baseline":"alphabetic"},"encoding":{"xOffset":{"field":"g","type":"nominal"},"y":{"field":"y","type":"quantitative","scale":{"domain":[20,80],"range":[219.3,172.7],"nice":false,"zero":false},"axis":null},"text":{"field":"t"}}},
    {"data":{"values":[{"genus":"Renibacterium;s_","y":108.8,"t":"*"}]},"mark":{"type":"text","fontSize":12,"fontWeight":"bold","baseline":"alphabetic"},"encoding":{"y":{"field":"y","type":"quantitative","scale":{"domain":[20,80],"range":[219.3,172.7],"nice":false,"zero":false},"axis":null},"text":{"field":"t"}}},
    {"data":{"values":[{"genus":"Renibacterium;s_","g":"T2D IgM⁻","y":46.5,"t":"*"}]},"mark":{"type":"text","fontSize":12,"fontWeight":"bold","baseline":"alphabetic","dx":7},"encoding":{"xOffset":{"field":"g","type":"nominal"},"y":{"field":"y","type":"quantitative","scale":{"domain":[20,80],"range":[219.3,172.7],"nice":false,"zero":false},"axis":null},"text":{"field":"t"}}},
    {"data":{"values":[{"genus":"Renibacterium;s_","y":104.1,"t":"d"}]},"mark":{"type":"text","fontSize":18,"fontWeight":"bold","baseline":"alphabetic","align":"left","dx":-77},"encoding":{"y":{"field":"y","type":"quantitative","scale":{"domain":[20,80],"range":[219.3,172.7],"nice":false,"zero":false},"axis":null},"text":{"field":"t"}}}
   ]},
  {"width":250,"height":300,"data":{"name":"leg"},
   "encoding":{"x":{"datum":0,"type":"quantitative","scale":{"domain":[0,1],"range":[206.7,250]},"axis":null},"y":{"field":"g","type":"nominal","axis":null,"scale":{"type":"point","padding":0,"domain":["NGT IgM⁻","NGT IgM⁺","IGT IgM⁻","IGT IgM⁺","T2D IgM⁻","T2D IgM⁺"],"range":[206,251.6]}}},
   "layer":[
    {"mark":{"type":"point","filled":true,"size":36,"stroke":"black","strokeWidth":0.7,"opacity":1},"encoding":{"shape":{"field":"g","type":"nominal","legend":null,"scale":{"domain":["NGT IgM⁻","NGT IgM⁺","IGT IgM⁻","IGT IgM⁺","T2D IgM⁻","T2D IgM⁺"],"range":["triangle-down","triangle-down","triangle-up","triangle-up","circle","square"]}},"color":{"field":"g","type":"nominal","legend":null,"scale":{"domain":["NGT IgM⁻","NGT IgM⁺","IGT IgM⁻","IGT IgM⁺","T2D IgM⁻","T2D IgM⁺"],"range":["#f08a24","#1d7a1d","#ff1a1a","#1a1aff","#9030e0","#ffff00"]}}}},
    {"mark":{"type":"text","align":"left","dx":8.3,"fontSize":9,"baseline":"middle","fontWeight":"normal"},"encoding":{"text":{"field":"g"}}}
   ]}
]
}
